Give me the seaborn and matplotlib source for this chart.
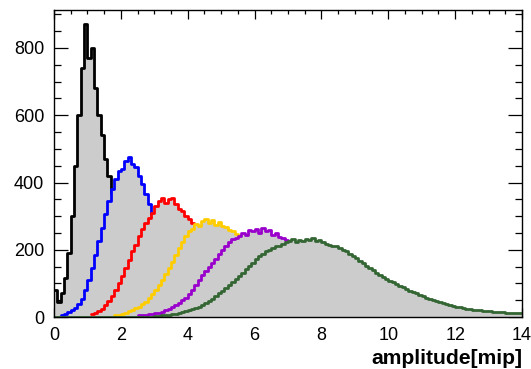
import numpy as np
import pandas as pd
import matplotlib
matplotlib.use("Agg")
import matplotlib.pyplot as plt
import seaborn as sns
from matplotlib.ticker import MultipleLocator

# amplitude spectra, 0.1 mip bins, each list starts at its *_x0
BIN_W = 0.1

black_x0 = 0.0
black_counts = [80, 45, 70, 115, 190, 300, 450, 600, 740, 870,
                770, 800, 680, 600, 540, 470, 420, 370, 320, 290,
                250, 225, 200, 175, 155, 135, 120, 105, 95, 85,
                75, 67, 60, 53, 47, 42, 37, 33, 29, 26,
                23, 20, 18, 16, 14, 12, 11, 10, 9, 8,
                7, 6, 6, 5, 5, 4, 4, 3, 3, 3, 2, 2, 2, 1, 1]

blue_x0 = 0.2
blue_counts = [5, 10, 15, 20, 28, 40, 55, 80, 110, 145,
               185, 225, 265, 305, 345, 380, 410, 435, 440, 465,
               475, 455, 445, 420, 395, 365, 335, 305, 280, 255,
               230, 205, 185, 165, 145, 128, 112, 98, 86, 75,
               65, 56, 48, 42, 36, 31, 27, 23, 20, 17,
               15, 13, 11, 10, 8, 7, 6, 5, 5, 4, 4, 3, 3, 2, 2, 2, 1, 1, 1]

red_x0 = 1.1
red_counts = [8, 12, 18, 25, 35, 48, 62, 80, 100, 122,
              145, 170, 195, 215, 240, 262, 280, 295, 310, 330,
              345, 355, 340, 350, 355, 335, 320, 315, 300, 290,
              280, 268, 255, 240, 225, 210, 195, 180, 165, 150,
              138, 126, 114, 103, 93, 84, 75, 67, 60, 54,
              48, 43, 38, 34, 30, 27, 24, 21, 19, 17,
              15, 13, 11, 10, 9, 8, 7, 6, 5, 4, 4, 3, 3, 2, 2]

gold_x0 = 1.8
gold_counts = [5, 7, 10, 13, 17, 21, 26, 31, 38, 46,
               57, 68, 80, 95, 110, 128, 145, 165, 185, 205,
               222, 240, 255, 262, 278, 270, 285, 292, 280, 288,
               275, 282, 270, 268, 260, 255, 248, 240, 230, 220,
               210, 200, 190, 178, 167, 156, 145, 135, 125, 116,
               107, 99, 91, 84, 77, 70, 64, 58, 53, 48,
               44, 40, 36, 32, 29, 26, 23, 21, 19, 17,
               15, 13, 12, 10, 9, 8, 7, 6, 5, 5, 4, 4, 3, 3, 2, 2, 2, 1]

purple_x0 = 2.5
purple_counts = [5, 6, 7, 8, 9, 11, 13, 16, 20, 24,
                 29, 35, 42, 50, 58, 68, 80, 95, 110, 125,
                 138, 150, 160, 172, 188, 200, 212, 222, 232, 236,
                 242, 250, 245, 258, 255, 262, 250, 265, 255, 258,
                 245, 250, 238, 235, 228, 220, 210, 200, 190, 180,
                 170, 160, 150, 140, 131, 122, 114, 106, 98, 91,
                 84, 78, 72, 66, 61, 56, 51, 47, 43, 40,
                 36, 33, 30, 28, 25, 23, 21, 19, 17, 16,
                 14, 13, 12, 11, 10, 9, 8, 8, 7, 6,
                 6, 5, 5, 4, 4, 4, 3, 3, 3, 3,
                 2, 2, 2, 2, 2, 2, 1, 1, 1, 1, 1, 1, 1, 1, 1]

green_x0 = 0.0
green_counts = [0] * 30 + [
    3, 4, 5, 6, 7, 9, 10, 12, 14, 17,
    20, 23, 27, 31, 36, 42, 48, 55, 62, 70,
    78, 86, 95, 105, 114, 122, 132, 142, 152, 162,
    172, 180, 188, 195, 200, 205, 210, 212, 218, 222,
    225, 232, 222, 228, 225, 233, 228, 235, 226, 230,
    222, 218, 215, 210, 212, 205, 200, 195, 188, 182,
    175, 168, 160, 153, 146, 140, 132, 126, 120, 114,
    108, 103, 98, 93, 88, 83, 78, 74, 70, 66,
    62, 58, 54, 50, 47, 44, 41, 38, 36, 33,
    31, 29, 27, 25, 24, 22, 21, 20, 19, 18,
    17, 16, 15, 14, 14, 13, 12, 12, 11, 11]

series = [
    (black_x0, black_counts, "black"),
    (blue_x0, blue_counts, "#0000ff"),
    (red_x0, red_counts, "#ff0000"),
    (gold_x0, gold_counts, "#ffcc00"),
    (purple_x0, purple_counts, "#9900cc"),
    (green_x0, green_counts, "#336633"),
]

sns.set_style("ticks")
plt.rcParams["font.family"] = ["Liberation Sans", "DejaVu Sans"]
plt.rcParams["text.color"] = "black"
plt.rcParams["xtick.labelcolor"] = "black"
plt.rcParams["ytick.labelcolor"] = "black"

fig = plt.figure(figsize=(5.31, 3.69), dpi=100)
ax = fig.add_axes([0.1017, 0.1409, 0.8814, 0.832])

for i, (x0, counts, col) in enumerate(series):
    n = len(counts)
    df = pd.DataFrame({
        "amp": x0 + BIN_W * (np.arange(n) + 0.5),
        "n": np.asarray(counts, dtype=float),
    })
    brange = (x0, x0 + BIN_W * n)
    # grey body first, then the coloured outline; later ones cover earlier ones
    sns.histplot(data=df, x="amp", weights="n", binwidth=BIN_W, binrange=brange,
                 element="step", fill=True, color="#cccccc", alpha=1,
                 linewidth=0, zorder=2 * i + 1, ax=ax)
    sns.histplot(data=df, x="amp", weights="n", binwidth=BIN_W, binrange=brange,
                 element="step", fill=False, color=col, linewidth=2.0,
                 zorder=2 * i + 2, ax=ax)

ax.set_xlim(0, 14)
ax.set_ylim(0, 913)
ax.set_ylabel("")
ax.set_xlabel("amplitude[mip]", fontsize=15.2, fontweight="bold",
              color="black", loc="right", labelpad=4)

ax.xaxis.set_major_locator(MultipleLocator(2))
ax.xaxis.set_minor_locator(MultipleLocator(0.5))
ax.yaxis.set_major_locator(MultipleLocator(200))
ax.yaxis.set_minor_locator(MultipleLocator(50))
ax.tick_params(axis="both", which="both", direction="in", top=True, right=True,
               labelsize=13, color="black", labelcolor="black", width=0.9)
ax.tick_params(axis="x", which="major", length=6.5, pad=7)
ax.tick_params(axis="x", which="minor", length=3.2)
ax.tick_params(axis="y", which="major", length=10, pad=7)
ax.tick_params(axis="y", which="minor", length=5)
for s in ax.spines.values():
    s.set_color("black")
    s.set_linewidth(1.0)
    s.set_zorder(20)

fig.savefig("out.png", dpi=100)
plt.close(fig)
